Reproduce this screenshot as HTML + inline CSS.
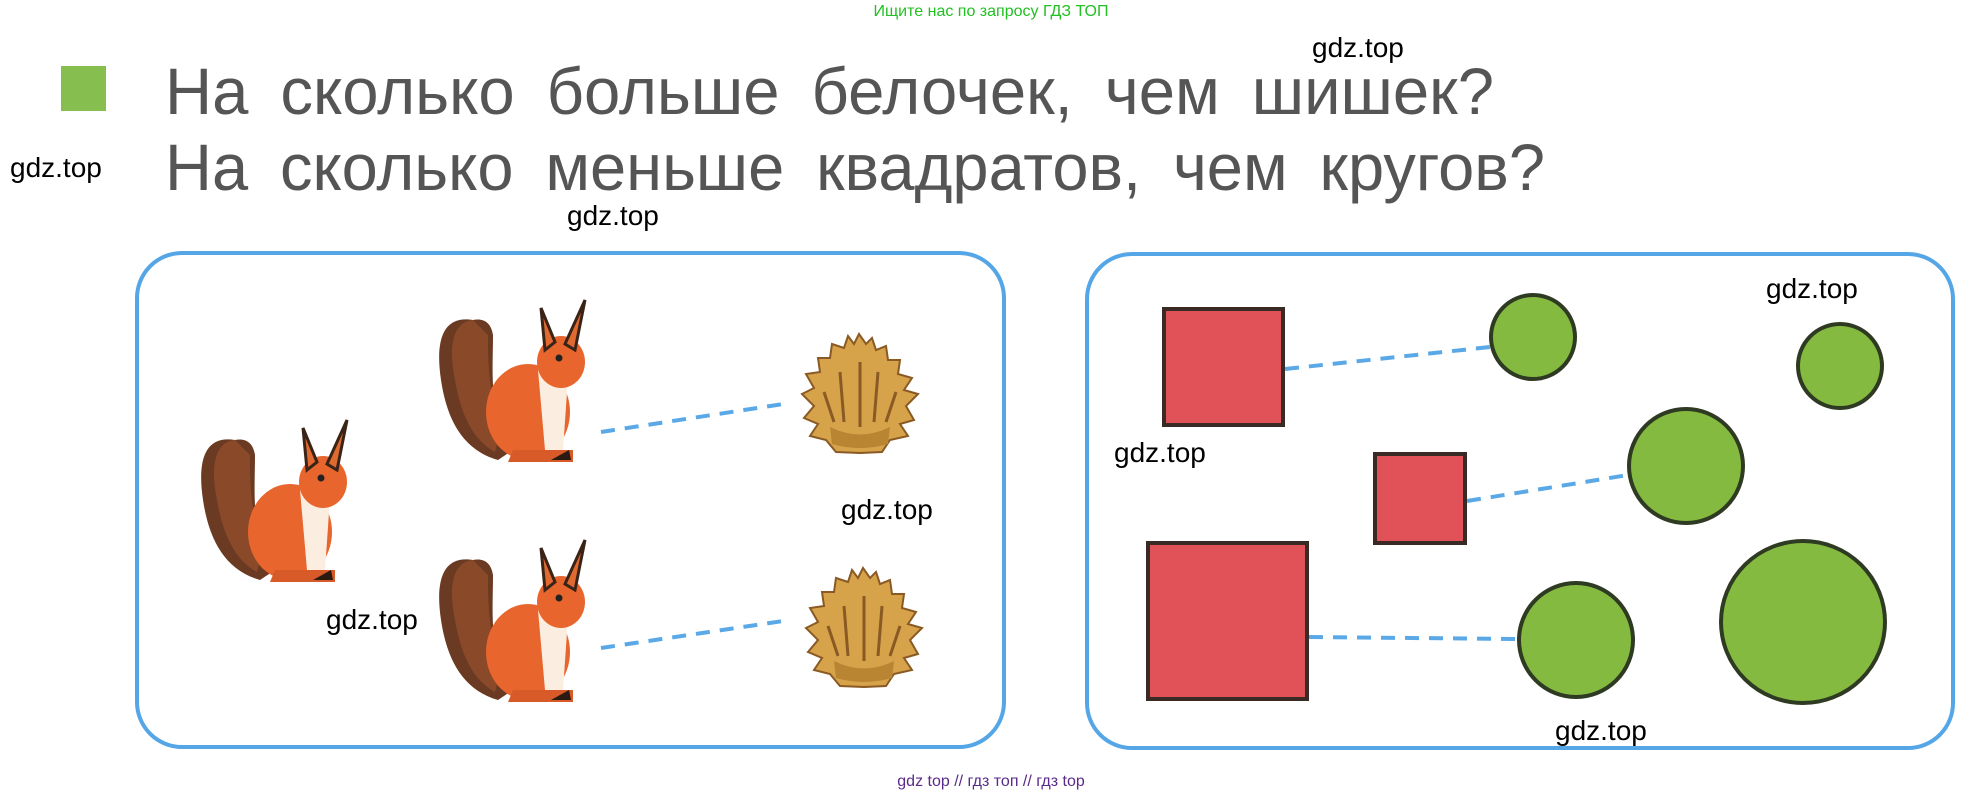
<!DOCTYPE html>
<html><head><meta charset="utf-8"><style>
html,body{margin:0;padding:0;background:#fff;}
svg{display:block}
</style></head><body>
<svg width="1975" height="791" viewBox="0 0 1975 791" xmlns="http://www.w3.org/2000/svg">
<defs>
<g id="sq">
  <path d="M40,20 C10,15 2,40 8,80 C14,120 30,150 65,160 L80,150 C55,120 60,70 60,35 C58,22 50,18 40,20 Z" fill="#6b3a22"/>
  <path d="M40,20 C20,22 15,45 22,80 C28,115 40,140 62,152 L70,120 C55,100 55,60 55,35 Z" fill="#8a4a2a"/>
  <ellipse cx="95" cy="112" rx="42" ry="48" fill="#e8662e"/>
  <path d="M105,70 L135,78 L130,150 L112,150 Z" fill="#fbeee0"/>
  <ellipse cx="128" cy="62" rx="24" ry="26" fill="#e8662e"/>
  <path d="M112,50 L108,8 L122,42 Z" fill="#e06a30" stroke="#3a2418" stroke-width="3"/>
  <path d="M132,44 L152,0 L142,50 Z" fill="#e06a30" stroke="#3a2418" stroke-width="3"/>
  <circle cx="126" cy="58" r="3.5" fill="#222"/>
  <path d="M80,150 L140,150 L140,162 L75,162 Z" fill="#d85a28"/>
  <path d="M118,160 L138,160 L136,150 Z" fill="#2a1a10"/>
</g>
<g id="cone">
  <path d="M59,2 L66,12 L72,6 L76,18 L86,14 L88,28 L100,28 L98,42 L112,46 L104,58 L118,62 L106,74 L114,88 L100,92 L108,104 L90,108 L82,120 L60,121 L36,120 L26,108 L10,104 L18,92 L4,86 L14,74 L2,62 L14,56 L6,42 L20,40 L18,26 L30,26 L32,12 L44,16 L48,4 L54,12 Z" fill="#d6a24a" stroke="#8a5a24" stroke-width="2"/>
  <path d="M30,95 Q60,110 90,95 L88,112 Q60,120 32,112 Z" fill="#b98533"/>
  <path d="M40,40 L44,90 M60,30 L60,95 M78,40 L74,90 M24,60 L34,90 M96,60 L86,90" stroke="#8a5a24" stroke-width="3" fill="none"/>
</g>
</defs>

<text x="991" y="16" text-anchor="middle" font-family="Liberation Sans, sans-serif" font-size="16" fill="#22c022">Ищите нас по запросу ГДЗ ТОП</text>

<rect x="61" y="66" width="45" height="45" fill="#86bf50"/>
<text x="165" y="114" textLength="1329" lengthAdjust="spacingAndGlyphs" font-family="Liberation Sans, sans-serif" font-size="66" fill="#555" word-spacing="14">На сколько больше белочек, чем шишек?</text>
<text x="165" y="190" textLength="1380" lengthAdjust="spacingAndGlyphs" font-family="Liberation Sans, sans-serif" font-size="66" fill="#555" word-spacing="14">На сколько меньше квадратов, чем кругов?</text>

<g font-family="Liberation Sans, sans-serif" font-size="28" fill="#000">
<text x="1312" y="57">gdz.top</text>
<text x="10" y="177">gdz.top</text>
<text x="567" y="225">gdz.top</text>
<text x="841" y="519">gdz.top</text>
<text x="326" y="629">gdz.top</text>
<text x="1766" y="298">gdz.top</text>
<text x="1114" y="462">gdz.top</text>
<text x="1555" y="740">gdz.top</text>
</g>

<rect x="137" y="253" width="867" height="494" rx="45" fill="none" stroke="#55a6e6" stroke-width="4"/>
<rect x="1087" y="254" width="866" height="494" rx="45" fill="none" stroke="#55a6e6" stroke-width="4"/>

<use href="#sq" x="433" y="300"/>
<use href="#sq" x="195" y="420"/>
<use href="#sq" x="433" y="540"/>
<use href="#cone" x="800" y="332"/>
<use href="#cone" x="804" y="566"/>

<g stroke="#5aa8e6" stroke-width="4" stroke-dasharray="14,10" fill="none">
<line x1="601" y1="432" x2="790" y2="403"/>
<line x1="601" y1="648" x2="790" y2="620"/>
<line x1="1285" y1="369" x2="1490" y2="347"/>
<line x1="1467" y1="501" x2="1628" y2="475"/>
<line x1="1309" y1="637" x2="1516" y2="639"/>
</g>

<g fill="#e05158" stroke="#3a2a26" stroke-width="4">
<rect x="1164" y="309" width="119" height="116"/>
<rect x="1375" y="454" width="90" height="89"/>
<rect x="1148" y="543" width="159" height="156"/>
</g>
<g fill="#84ba40" stroke="#2e3a22" stroke-width="4">
<ellipse cx="1533" cy="337" rx="42" ry="42"/>
<ellipse cx="1840" cy="366" rx="42" ry="42"/>
<ellipse cx="1686" cy="466" rx="57" ry="57"/>
<ellipse cx="1576" cy="640" rx="57" ry="57"/>
<ellipse cx="1803" cy="622" rx="82" ry="81"/>
</g>

<text x="991" y="786" text-anchor="middle" font-family="Liberation Sans, sans-serif" font-size="16" fill="#5a2a8a">gdz top  //  гдз топ  //  гдз top</text>
</svg>
</body></html>
